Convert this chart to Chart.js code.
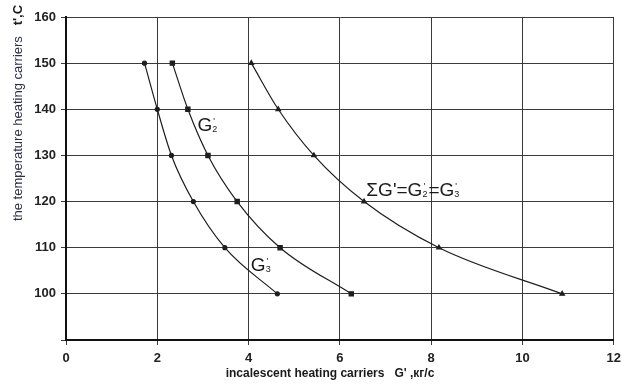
<!DOCTYPE html>
<html>
<head>
<meta charset="utf-8">
<script src="https://cdn.jsdelivr.net/npm/chart.js@4/dist/chart.umd.min.js"></script>
<style>
    html, body { margin: 0; padding: 0; background: #fff; }
    #wrap { width: 627px; height: 387px; }
</style>
</head>
<body>
<div id="wrap"><canvas id="chart" width="627" height="387"></canvas></div>
<script>
"use strict";

// temperature of heating carriers, t', C
const temperatures = [150, 140, 130, 120, 110, 100];
// flow of heating carriers, kg/s
const flowG2 = [2.33, 2.67, 3.11, 3.75, 4.69, 6.25];
const flowG3 = [1.72, 2.00, 2.31, 2.79, 3.48, 4.63];
const flowSum = [4.06, 4.65, 5.43, 6.53, 8.17, 10.87];

const xTicks = [0, 2, 4, 6, 8, 10, 12];
const yTicks = [100, 110, 120, 130, 140, 150, 160];

const xTitle = "incalescent heating carriers   G' ,кг/с";
const yTitle = "the temperature heating carriers";
const yUnit = "t',C";

// curve labels: [x, y, parts]
const curveLabels = [
    {x: 2.88, y: 136.5, parts: [["G", "2"]]},
    {x: 4.05, y: 106.1, parts: [["G", "3"]]},
    {x: 6.58, y: 122.4, parts: [["ΣG'", ""], ["=G", "2"], ["=G", "3"]]}
];

const font = "'Liberation Sans', Arial, sans-serif";

function toPoints(xs) {
    return xs.map((x, i) => ({x: x, y: temperatures[i]}));
}

function buildDataset(xs, style, radius) {
    return {
        data: toPoints(xs),
        borderColor: "#1e1e1e",
        backgroundColor: "#1e1e1e",
        borderWidth: 1.2,
        pointStyle: style,
        pointRadius: radius,
        tension: 0.4,
        cubicInterpolationMode: "monotone"
    };
}

const labelsPlugin = {
    id: "labels",
    afterDraw(chart) {
        const ctx = chart.ctx;
        const xs = chart.scales.x;
        const ys = chart.scales.y;
        ctx.save();
        ctx.fillStyle = "#1a1a1a";
        ctx.textBaseline = "middle";
        curveLabels.forEach(lab => {
            let px = xs.getPixelForValue(lab.x);
            const py = ys.getPixelForValue(lab.y);
            lab.parts.forEach(p => {
                ctx.font = "19px " + font;
                ctx.textAlign = "left";
                ctx.fillText(p[0], px, py);
                px += ctx.measureText(p[0]).width;
                if (p[1]) {
                    ctx.font = "9px " + font;
                    ctx.fillText("'", px + 1, py - 4);
                    ctx.fillText(p[1], px, py + 4);
                    px += 6;
                }
            });
        });

        // axis titles
        ctx.font = "bold 12px " + font;
        ctx.textAlign = "center";
        ctx.fillStyle = "#1a1a1a";
        ctx.fillText(xTitle, 330, 374);

        ctx.translate(18, 113);
        ctx.rotate(-Math.PI / 2);
        ctx.font = "13px " + font;
        const w1 = ctx.measureText(yTitle + "   ").width;
        ctx.font = "bold 13px " + font;
        const w2 = ctx.measureText(yUnit).width;
        const start = -(w1 + w2) / 2;
        ctx.textAlign = "left";
        ctx.font = "13px " + font;
        ctx.fillStyle = "#2a2f45";
        ctx.fillText(yTitle, start, 0);
        ctx.font = "bold 13px " + font;
        ctx.fillStyle = "#1a1a1a";
        ctx.fillText(yUnit, start + w1, 0);
        ctx.restore();
    }
};

const ctx = document.querySelector("#chart").getContext("2d");
const configuration = {
    type: "line",
    data: {
        datasets: [
            buildDataset(flowG3, "circle", 2),
            buildDataset(flowG2, "rect", 3),
            buildDataset(flowSum, "triangle", 2.6)
        ]
    },
    options: {
        responsive: false,
        animation: false,
        layout: {
            padding: {left: 0, right: 10, top: 17, bottom: 0}
        },
        plugins: {
            legend: {display: false},
            tooltip: {enabled: false}
        },
        scales: {
            x: {
                type: "linear",
                min: 0,
                max: 12,
                afterBuildTicks: scale => { scale.ticks = xTicks.map(v => ({value: v})); },
                afterFit: scale => { scale.height = 47; },
                grid: {color: "#3a3a3a", lineWidth: 1, tickLength: 5},
                border: {color: "#111", width: 2},
                ticks: {
                    padding: 6,
                    color: "#222",
                    font: {family: font, size: 13, weight: "bold"}
                }
            },
            y: {
                type: "linear",
                min: 90,
                max: 160,
                afterBuildTicks: scale => { scale.ticks = [90].concat(yTicks).map(v => ({value: v})); },
                afterFit: scale => { scale.width = 66; },
                grid: {color: "#3a3a3a", lineWidth: 1, tickLength: 5},
                border: {color: "#111", width: 2},
                ticks: {
                    padding: 5,
                    color: "#222",
                    font: {family: font, size: 13, weight: "bold"},
                    callback: v => (v === 90 ? "" : v)
                }
            }
        }
    },
    plugins: [labelsPlugin]
};
new Chart(ctx, configuration); //NOSONAR
</script>
</body>
</html>
